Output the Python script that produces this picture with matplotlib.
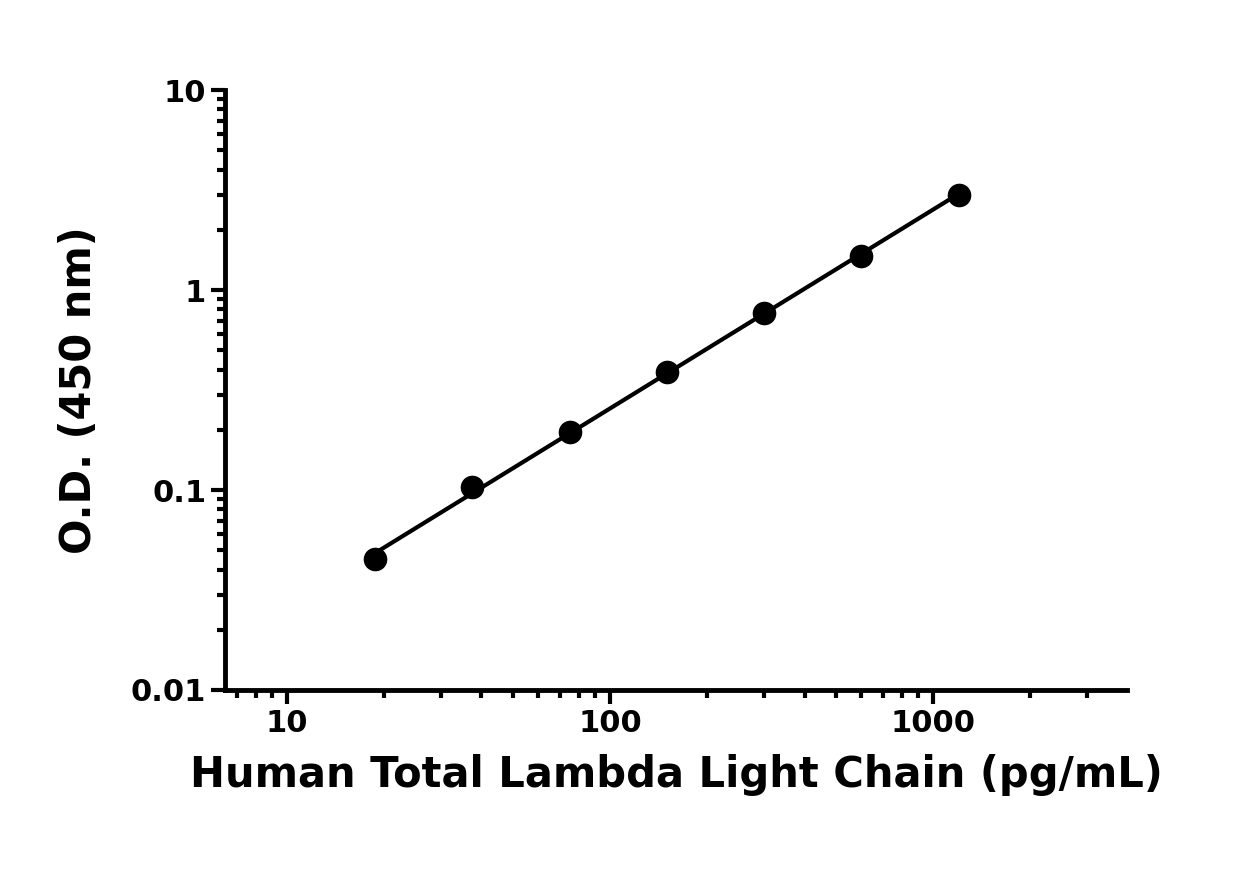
import matplotlib
matplotlib.use("Agg")
import matplotlib.pyplot as plt
import numpy as np

conc = [18.75, 37.5, 75, 150, 300, 600, 1200]
od = [0.045, 0.103, 0.195, 0.39, 0.77, 1.48, 3.0]
xlabel = "Human Total Lambda Light Chain (pg/mL)"
ylabel = "O.D. (450 nm)"

fig = plt.figure(figsize=(12.5, 8.69), dpi=100)
ax = fig.add_axes([0.18, 0.206, 0.7216, 0.6904])
ax.set_xscale("log"); ax.set_yscale("log")
ax.set_xlim(6.43, 3980); ax.set_ylim(0.01, 10)
# fit line
c = np.polyfit(np.log10(conc), np.log10(od), 1)
xs = np.logspace(np.log10(conc[0]), np.log10(conc[-1]), 50)
ax.plot(xs, 10**np.polyval(c, np.log10(xs)), color="black", lw=3)
ax.plot(conc, od, "o", color="black", ms=16)
for s in ["top", "right"]:
    ax.spines[s].set_visible(False)
for s in ["left", "bottom"]:
    ax.spines[s].set_linewidth(3.5)
ax.set_xticks([10, 100, 1000]); ax.set_xticklabels(["10", "100", "1000"])
ax.set_yticks([0.01, 0.1, 1, 10]); ax.set_yticklabels(["0.01", "0.1", "1", "10"])
ax.tick_params(which="major", length=10, width=3, labelsize=22, direction="out")
ax.tick_params(which="minor", length=6, width=3, direction="out")
for t in ax.get_xticklabels() + ax.get_yticklabels():
    t.set_fontweight("bold"); t.set_fontfamily("Liberation Sans Narrow")
ax.set_xlabel(xlabel, fontsize=30, fontweight="bold", labelpad=12)
ax.set_ylabel(ylabel, fontsize=30, fontweight="bold", labelpad=22)
fig.savefig("out.png", dpi=100)
